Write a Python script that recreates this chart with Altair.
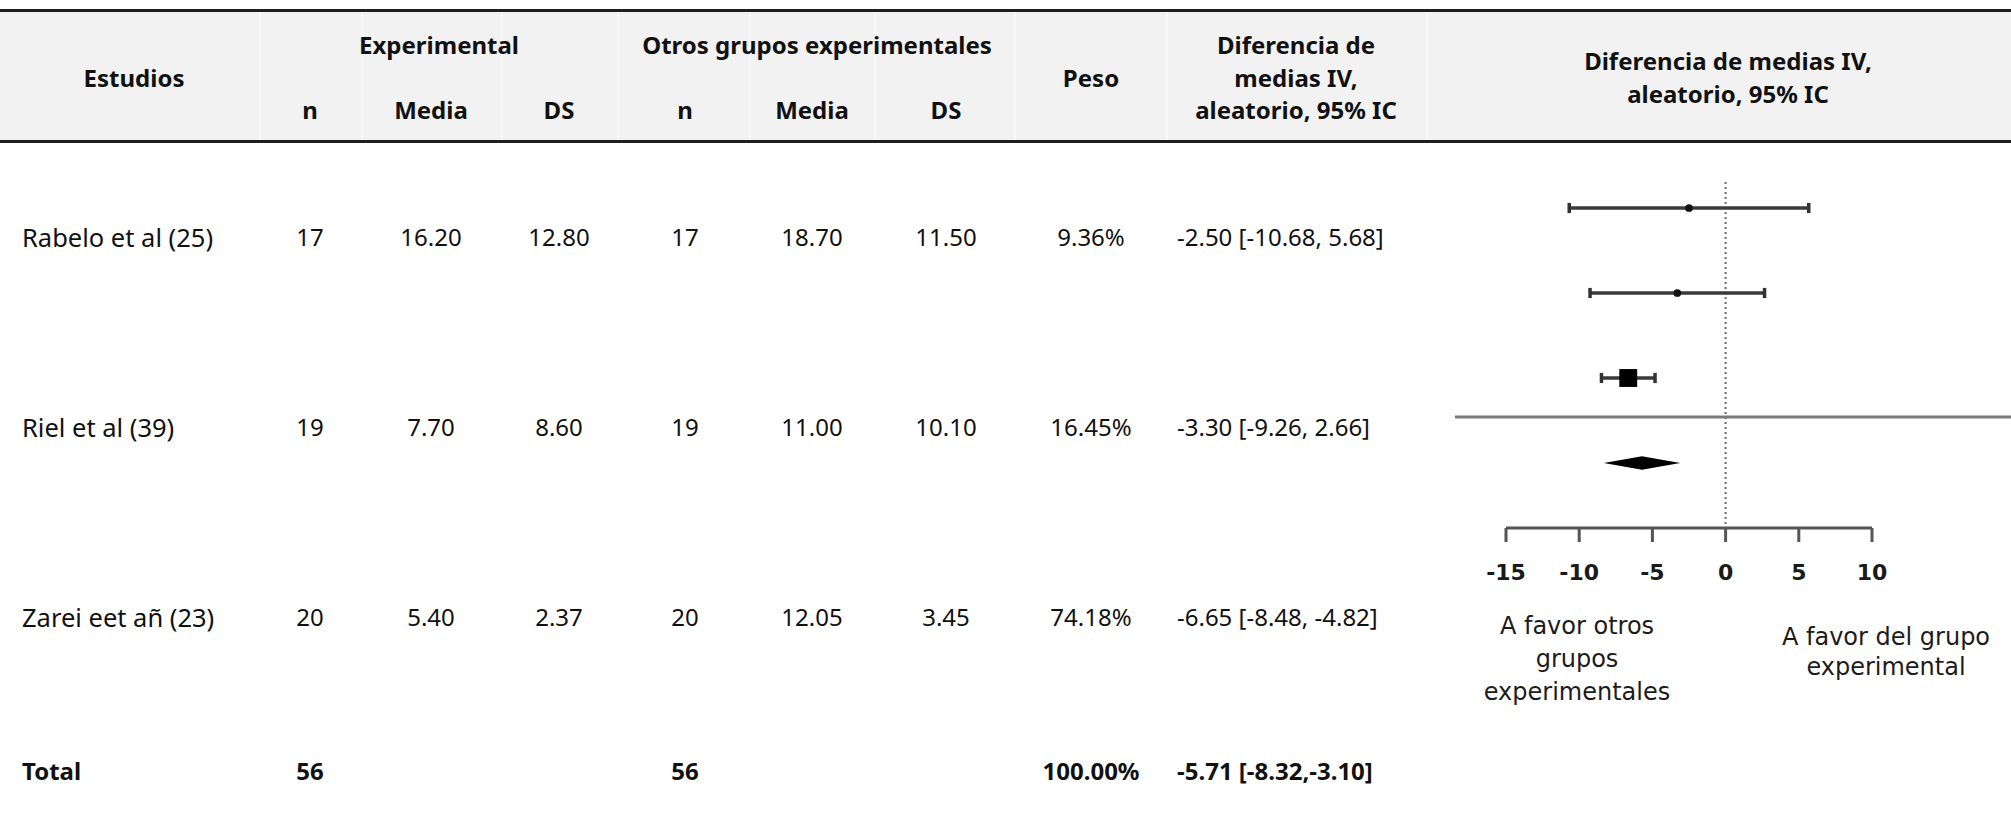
import altair as alt
import pandas as pd

# ---- study data ----
studies = ["Rabelo et al (25)", "Riel et al (39)", "Zarei eet añ (23)"]
exp_n = [17, 19, 20]
exp_mean = [16.20, 7.70, 5.40]
exp_sd = [12.80, 8.60, 2.37]
oth_n = [17, 19, 20]
oth_mean = [18.70, 11.00, 12.05]
oth_sd = [11.50, 10.10, 3.45]
weight_pct = [9.36, 16.45, 74.18]
md = [-2.50, -3.30, -6.65]
md_lo = [-10.68, -9.26, -8.48]
md_hi = [5.68, 2.66, -4.82]

total_label = "Total"
total_exp_n = 56
total_oth_n = 56
total_weight = 100.00
total_md = -5.71
total_lo = -8.32
total_hi = -3.10

axis_ticks = [-15, -10, -5, 0, 5, 10]
note_left = ["A favor otros", "grupos", "experimentales"]
note_right = ["A favor del grupo", "experimental"]

# ---- layout ----
W, H = 2011, 823
FONT = "Noto Sans"
FIG_FONT = "DejaVu Sans"
INK = "#111111"

col_x = {"study": 22, "n1": 310, "m1": 431, "s1": 559, "n2": 685,
         "m2": 812, "s2": 946, "w": 1091, "md": 1177}
row_y = [239, 429, 619]
total_y = 773
header_top, header_bottom = 10.5, 141.5
separators = [260, 362, 502, 618, 750, 875, 1015, 1167, 1427]
axis_y = 528

cells = []


def cell(label, x, y, align="center", weight="normal", size=24):
    cells.append({"label": label, "px": x, "py": y, "align": align,
                  "weight": weight, "size": size})


# header block
cell("Estudios", 134, 80, weight="bold")
cell("Experimental", 439, 47, weight="bold")
cell("Otros grupos experimentales", 817, 47, weight="bold")
for key, name in [("n1", "n"), ("m1", "Media"), ("s1", "DS"),
                  ("n2", "n"), ("m2", "Media"), ("s2", "DS")]:
    cell(name, col_x[key], 112, weight="bold")
cell("Peso", col_x["w"], 80, weight="bold")
for line, y in zip(["Diferencia de", "medias IV,", "aleatorio, 95% IC"], [47, 80, 112]):
    cell(line, 1296, y, weight="bold")
for line, y in zip(["Diferencia de medias IV,", "aleatorio, 95% IC"], [63, 96]):
    cell(line, 1728, y, weight="bold")

# one row per study
for i, name in enumerate(studies):
    y = row_y[i]
    cell(name, col_x["study"], y, align="left", size=25.5)
    cell(f"{exp_n[i]}", col_x["n1"], y)
    cell(f"{exp_mean[i]:.2f}", col_x["m1"], y)
    cell(f"{exp_sd[i]:.2f}", col_x["s1"], y)
    cell(f"{oth_n[i]}", col_x["n2"], y)
    cell(f"{oth_mean[i]:.2f}", col_x["m2"], y)
    cell(f"{oth_sd[i]:.2f}", col_x["s2"], y)
    cell(f"{weight_pct[i]:.2f}%", col_x["w"], y)
    cell(f"{md[i]:.2f} [{md_lo[i]:.2f}, {md_hi[i]:.2f}]", col_x["md"], y, align="left")

# pooled row
cell(total_label, col_x["study"], total_y, "left", "bold")
cell(str(total_exp_n), col_x["n1"], total_y, weight="bold")
cell(str(total_oth_n), col_x["n2"], total_y, weight="bold")
cell(f"{total_weight:.2f}%", col_x["w"], total_y, weight="bold")
cell(f"{total_md:.2f} [{total_lo:.2f},{total_hi:.2f}]", col_x["md"], total_y, "left", "bold")

cells_df = pd.DataFrame(cells)
one = pd.DataFrame({"k": [0]})

# ---- header band ----
band = alt.Chart(one).mark_rect(color="#f2f2f2").encode(
    x=alt.value(0), x2=alt.value(W), y=alt.value(header_top), y2=alt.value(header_bottom))
rules_h = alt.Chart(pd.DataFrame({"py": [header_top, header_bottom]})).mark_rule(
    color="#1e1e1e", strokeWidth=3).encode(
    y=alt.Y("py:Q", scale=None, axis=None), x=alt.value(0), x2=alt.value(W))
seps = alt.Chart(pd.DataFrame({"px": separators})).mark_rule(
    color="#ffffff", strokeWidth=1.5, opacity=0.6).encode(
    x=alt.X("px:Q", scale=None, axis=None), y=alt.value(8), y2=alt.value(144))

text_layers = []
for (align, weight, size), sub in cells_df.groupby(["align", "weight", "size"]):
    text_layers.append(
        alt.Chart(sub).mark_text(align=align, baseline="middle", font=FONT,
                                 fontSize=float(size), fontWeight=weight, color=INK).encode(
            x=alt.X("px:Q", scale=None, axis=None),
            y=alt.Y("py:Q", scale=None, axis=None),
            text="label:N"))

# ---- forest plot ----
xs = alt.Scale(domain=[-15, 10], range=[1506, 1872], nice=False, zero=False)
ys = alt.Scale(domain=[0, 3], range=[208, 463], nice=False, zero=False)

forest = pd.DataFrame({"study": studies, "pos": list(range(len(studies))),
                       "md": md, "lo": md_lo, "hi": md_hi})

ci = alt.Chart(forest).mark_rule(color="#3a3a3a", strokeWidth=3.5).encode(
    x=alt.X("lo:Q", scale=xs, axis=None), x2="hi:Q",
    y=alt.Y("pos:Q", scale=ys, axis=None))

caps = alt.Chart(forest).transform_fold(["lo", "hi"], as_=["end", "val"]).transform_calculate(
    y0="datum.pos - 0.06", y1="datum.pos + 0.06").mark_rule(
    color="#333333", strokeWidth=3.5).encode(
    x=alt.X("val:Q", scale=xs, axis=None),
    y=alt.Y("y0:Q", scale=ys, axis=None), y2="y1:Q")

dots = alt.Chart(forest).transform_filter("datum.pos < 2").mark_circle(
    size=60, color="#111111", opacity=1).encode(
    x=alt.X("md:Q", scale=xs, axis=None), y=alt.Y("pos:Q", scale=ys, axis=None))

box = alt.Chart(forest).transform_filter("datum.pos == 2").mark_square(
    size=320, color="#000000", opacity=1).encode(
    x=alt.X("md:Q", scale=xs, axis=None), y=alt.Y("pos:Q", scale=ys, axis=None))

half = 0.078
diamond_df = pd.DataFrame({
    "x": [total_lo, total_md, total_hi],
    "top": [3, 3 - half, 3],
    "bot": [3, 3 + half, 3],
})
diamond = alt.Chart(diamond_df).mark_area(color="#000000", opacity=1).encode(
    x=alt.X("x:Q", scale=xs, axis=None),
    y=alt.Y("top:Q", scale=ys, axis=None), y2="bot:Q")

zero_line = alt.Chart(pd.DataFrame({"v": [0]})).mark_rule(
    color="#6a6a6a", strokeWidth=2, strokeDash=[2, 3]).encode(
    x=alt.X("v:Q", scale=xs, axis=None), y=alt.value(182), y2=alt.value(axis_y))

divider = alt.Chart(one).mark_rule(color="#7a7a7a", strokeWidth=3).encode(
    y=alt.value(417), x=alt.value(1455), x2=alt.value(W))

# effect-size axis drawn below the plot rows
ticks_df = pd.DataFrame({"v": axis_ticks, "lab": [str(t) for t in axis_ticks]})
axis_line = alt.Chart(ticks_df).mark_rule(color="#555555", strokeWidth=3).encode(
    x=alt.X("min(v):Q", scale=xs, axis=None), x2="max(v):Q", y=alt.value(axis_y))
axis_ticks_marks = alt.Chart(ticks_df).mark_rule(color="#555555", strokeWidth=3).encode(
    x=alt.X("v:Q", scale=xs, axis=None), y=alt.value(axis_y), y2=alt.value(axis_y + 14))
axis_labels = alt.Chart(ticks_df).mark_text(
    align="center", baseline="middle", font=FIG_FONT, fontSize=22,
    fontWeight="bold", color="#1a1a1a").encode(
    x=alt.X("v:Q", scale=xs, axis=None), y=alt.value(573), text="lab:N")

notes = pd.DataFrame(
    [{"label": t, "px": 1577, "py": y} for t, y in zip(note_left, [627, 660, 693])]
    + [{"label": t, "px": 1886, "py": y} for t, y in zip(note_right, [638, 668])])
note_text = alt.Chart(notes).mark_text(align="center", baseline="middle", font=FIG_FONT,
                                       fontSize=24, color="#1c1c1c").encode(
    x=alt.X("px:Q", scale=None, axis=None),
    y=alt.Y("py:Q", scale=None, axis=None),
    text="label:N")

chart = alt.layer(
    band, seps, rules_h, *text_layers,
    zero_line, divider, axis_line, axis_ticks_marks, axis_labels,
    ci, caps, dots, box, diamond, note_text,
).properties(
    width=W, height=H, padding=0, background="white",
    autosize=alt.AutoSizeParams(type="none"),
).configure_view(stroke=None)

chart.save("out.html", embed_options={"renderer": "svg", "actions": False})
